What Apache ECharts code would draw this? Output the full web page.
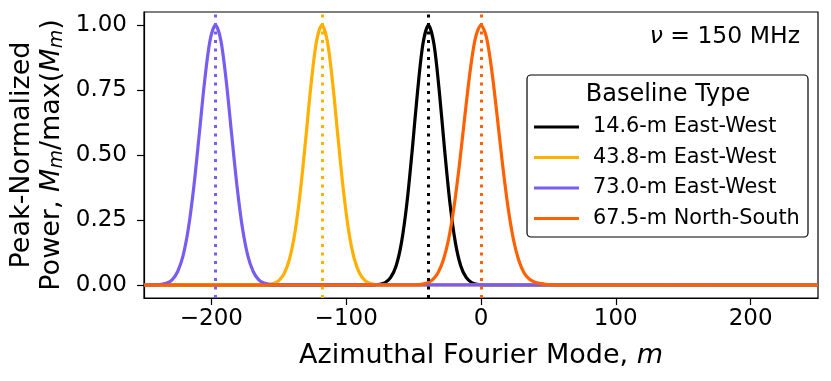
<!DOCTYPE html>
<html>
<head>
<meta charset="utf-8">
<script src="https://cdn.jsdelivr.net/npm/echarts@6/dist/echarts.min.js"></script>
<style>
  html, body { margin: 0; padding: 0; background: #fff; }
  #chart { width: 831px; height: 381px; }
</style>
</head>
<body>
<div id="chart"></div>
<script>
// azimuthal modes m and peak-normalized power
const blackM = [-250, -83, -79, -75, -71, -67, -63, -59, -55, -51, -47, -43, -39, -35, -31, -27, -23, -19, -15, -11, -7, -3, 1, 5, 250]
const blackP = [0, 0, 0.0007, 0.0028, 0.0096, 0.029, 0.073, 0.163, 0.313, 0.52, 0.748, 0.93, 1, 0.93, 0.748, 0.52, 0.313, 0.163, 0.073, 0.029, 0.0096, 0.0028, 0.0007, 0, 0]

const orangeM = [-250, -162, -158, -154, -150, -146, -142, -138, -134, -130, -126, -122, -118, -114, -110, -106, -102, -98, -94, -90, -86, -82, -78, -74, 250]
const orangeP = [0, 0.0004, 0.0017, 0.0057, 0.017, 0.044, 0.101, 0.203, 0.361, 0.563, 0.775, 0.938, 1, 0.938, 0.775, 0.563, 0.361, 0.203, 0.101, 0.044, 0.017, 0.0057, 0.0017, 0.0004, 0]

const purpleM = [-250, -241, -237, -233, -229, -225, -221, -217, -213, -209, -205, -201, -197, -193, -189, -185, -181, -177, -173, -169, -165, -161, -157, -153, 250]
const purpleP = [0, 0.0007, 0.0024, 0.0074, 0.021, 0.052, 0.113, 0.22, 0.38, 0.58, 0.785, 0.941, 1, 0.941, 0.785, 0.58, 0.38, 0.22, 0.113, 0.052, 0.021, 0.0074, 0.0024, 0.0007, 0]

const redM = [-250, -48, -44, -40, -36, -32, -28, -24, -20, -16, -12, -8, -4, 0, 4, 8, 12, 16, 20, 24, 28, 32, 36, 40, 44, 48, 52, 56, 250]
const redP = [0, 0, 0.003, 0.008, 0.02, 0.046, 0.095, 0.177, 0.301, 0.463, 0.649, 0.825, 0.953, 1, 0.953, 0.825, 0.649, 0.463, 0.301, 0.177, 0.095, 0.046, 0.022, 0.011, 0.006, 0.003, 0.001, 0, 0]

const peakModes = [-39, -118, -197, 0]
const names = ['14.6-m East-West', '43.8-m East-West', '73.0-m East-West', '67.5-m North-South']
const colors = ['#000000', '#FFB000', '#785EF0', '#FE6100']
const xTicks = [-200, -100, 0, 100, 200]
const yTicks = [0, 0.25, 0.5, 0.75, 1]

const font = 'DejaVu Sans'
const myChart = echarts.init(document.getElementById('chart'))

const curves = [
  [blackM, blackP],
  [orangeM, orangeP],
  [purpleM, purpleP],
  [redM, redP]
]

const series = curves.map((c, i) => ({
  name: names[i],
  type: 'line',
  data: c[0].map((m, j) => [m, c[1][j]]),
  showSymbol: false,
  smooth: 0.3,
  lineStyle: { color: colors[i], width: 3.2 },
  itemStyle: { color: colors[i] },
  markLine: {
    silent: true,
    symbol: 'none',
    label: { show: false },
    lineStyle: { color: colors[i], type: [3, 5.5], width: 3 },
    data: [{ xAxis: peakModes[i] }]
  }
}))

const option = {
  animation: false,
  backgroundColor: '#fff',
  textStyle: { fontFamily: font, color: '#000' },
  grid: {
    left: 144, right: 13, top: 12, bottom: 83,
    outerBoundsMode: 'none',
    show: true, borderColor: '#000', borderWidth: 1.2
  },
  xAxis: {
    type: 'value',
    min: -250,
    max: 250,
    splitLine: { show: false },
    axisLine: { onZero: false, lineStyle: { color: '#000', width: 1.2 } },
    axisTick: { customValues: xTicks, length: 7, lineStyle: { color: '#000', width: 1.2 } },
    axisLabel: {
      customValues: xTicks,
      margin: 10,
      fontSize: 23,
      fontFamily: font,
      color: '#000',
      formatter: v => String(v).replace('-', '\u2212')
    },
    name: '{t|Azimuthal Fourier Mode, }{i|m}',
    nameLocation: 'middle',
    nameGap: 44,
    nameMoveOverlap: false,
    nameTextStyle: {
      rich: {
        t: { fontSize: 27, fontFamily: font, color: '#000' },
        i: { fontSize: 27, fontFamily: font, fontStyle: 'italic', color: '#000' }
      }
    }
  },
  yAxis: {
    type: 'value',
    min: -0.05,
    max: 1.05,
    splitLine: { show: false },
    axisLine: { show: true, onZero: false, lineStyle: { color: '#000', width: 1.2 } },
    axisTick: { show: true, customValues: yTicks, length: 7, lineStyle: { color: '#000', width: 1.2 } },
    axisLabel: {
      customValues: yTicks,
      margin: 17,
      fontSize: 23,
      fontFamily: font,
      color: '#000',
      formatter: v => v.toFixed(2)
    },
    name: '{t|Peak-Normalized}\n{t|Power, }{i|M}{s|m}{t|/max(}{i|M}{s|m}{t|)}',
    nameLocation: 'middle',
    nameRotate: 90,
    nameGap: 77,
    nameMoveOverlap: false,
    nameTextStyle: {
      lineHeight: 30,
      rich: {
        t: { fontSize: 27, lineHeight: 30, fontFamily: font, color: '#000' },
        i: { fontSize: 27, lineHeight: 30, fontFamily: font, fontStyle: 'italic', color: '#000' },
        s: { fontSize: 19, lineHeight: 14, verticalAlign: 'bottom', fontFamily: font, fontStyle: 'italic', color: '#000' }
      }
    }
  },
  legend: {
    data: names,
    orient: 'vertical',
    left: 529,
    top: 110,
    z: 60,
    icon: 'rect',
    itemWidth: 45,
    itemHeight: 3,
    itemGap: 6.5,
    textStyle: { fontSize: 20.8, lineHeight: 24, fontFamily: font, color: '#000', padding: [0, 0, 0, 9] }
  },
  graphic: [
    {
      type: 'rect',
      shape: { x: 527, y: 75, width: 281, height: 162, r: 4 },
      style: { fill: '#fff', stroke: '#000', lineWidth: 1.2 },
      z: 50
    },
    {
      type: 'text',
      x: 668, y: 95,
      style: { text: 'Baseline Type', font: '24px "DejaVu Sans"', fill: '#000', align: 'center', verticalAlign: 'middle' },
      z: 51
    },
    {
      type: 'text',
      x: 800, y: 37,
      style: {
        text: '{i|\u03bd}{t| = 150 MHz}',
        align: 'right',
        verticalAlign: 'middle',
        rich: {
          i: { fontSize: 23.5, fontFamily: font, fontStyle: 'italic', fill: '#000' },
          t: { fontSize: 23.5, fontFamily: font, fill: '#000' }
        }
      },
      z: 51
    }
  ],
  series: series
}

myChart.setOption(option)
</script>
</body>
</html>
